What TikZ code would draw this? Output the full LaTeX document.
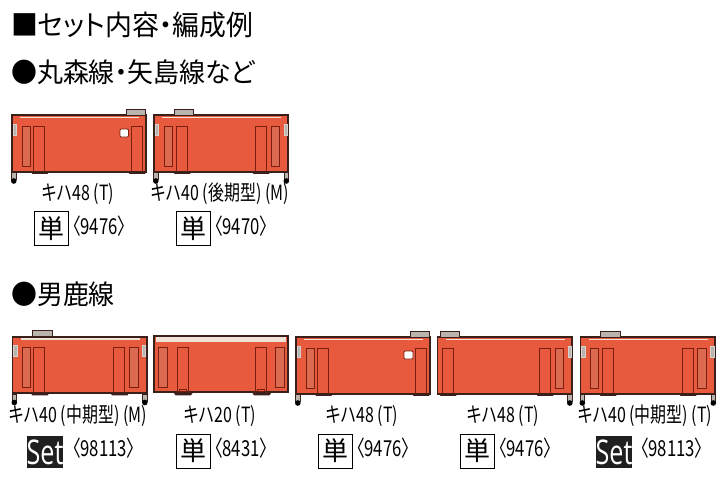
\documentclass[tikz,border=0pt]{standalone}
\usepackage{fontspec}
\setmainfont{Noto Sans CJK JP}[RawFeature=+palt]
\newfontfamily\narrowjp{Noto Sans CJK JP}[FakeStretch=0.76,RawFeature=+palt]
\newfontfamily\headjp{Noto Sans CJK JP}[FakeStretch=0.96,RawFeature=+palt]
\newfontfamily\setfont{Open Sans}[FakeStretch=0.74]
\definecolor{bodyred}{HTML}{E85A3E}
\definecolor{panelred}{HTML}{DC6A50}
\definecolor{edgedark}{HTML}{3A1F1A}
\definecolor{doorline}{HTML}{7A1E10}
\definecolor{roofgrey}{HTML}{B9B4AE}
\definecolor{stripe}{HTML}{EFE3D8}
\tikzset{
  x=1pt,y=-1pt,
  bodyshape/.style={fill=bodyred,draw=none},
  frametop/.style={line width=2pt,draw=edgedark},
  frameedge/.style={line width=1.6pt,draw=edgedark},
  stripeline/.style={line width=1.7pt,draw=stripe},
  doorbox/.style={draw=doorline,line width=.9pt},
  panelbox/.style={draw=doorline,fill=panelred,line width=.8pt},
  roofbox/.style={fill=roofgrey,draw=edgedark,line width=.5pt},
  lampbox/.style={fill=roofgrey,draw=roofgrey!60,line width=.4pt},
  couplerstem/.style={fill=roofgrey,draw=edgedark,line width=.6pt},
  couplerhead/.style={fill=black,draw=none,circle,inner sep=0pt,minimum size=5.6pt},
  headingtext/.style={anchor=west,inner sep=0pt,font=\headjp\fontsize{27}{27}\selectfont},
  titletext/.style={anchor=west,inner sep=0pt,font=\headjp\fontsize{28}{28}\selectfont},
  carlabel/.style={inner sep=0pt,font=\narrowjp\fontsize{21}{21}\selectfont},
  numlabel/.style={anchor=west,inner sep=0pt,font=\narrowjp\fontsize{22}{22}\selectfont},
  tankbox/.style={draw=black,line width=.7pt,fill=white,minimum width=34pt,minimum height=34pt,inner sep=0pt,font=\fontsize{26}{26}\selectfont},
  setbox/.style={fill=black!88,text=white,minimum width=36pt,minimum height=32pt,inner sep=0pt,font=\setfont\fontsize{34}{34}\selectfont}
}
% #1 x, #2 y: body top left; body is 136 x 58
\newcommand{\carbody}[2]{%
  \fill[bodyshape] (#1,#2) rectangle ++(136,58);
  \draw[frameedge] (#1+.8,#2) -- (#1+.8,#2+57.2) -- (#1+135.2,#2+57.2) -- (#1+135.2,#2);
  \draw[frametop] (#1,#2+.5) -- (#1+136,#2+.5);
  \draw[stripeline] (#1+9,#2+3) -- (#1+128,#2+3);
}
\newcommand{\roofunit}[2]{\filldraw[roofbox] (#1,#2-5.5) rectangle ++(19.5,6);}
\newcommand{\doorat}[2]{%
  \draw[doorbox] (#1,#2+57) -- (#1,#2+11.5) -- (#1+11,#2+11.5) -- (#1+11,#2+57);
  \fill[edgedark] (#1-3,#2+57) -- (#1-1.5,#2+59.3) -- (#1+14,#2+59.3) -- (#1+15.5,#2+57) -- cycle;
}
\newcommand{\panelat}[2]{\filldraw[panelbox] (#1,#2+11.5) rectangle ++(8.5,40);}
\newcommand{\headlamp}[2]{\filldraw[lampbox] (#1,#2+9.5) rectangle ++(3.2,11);}
\newcommand{\coupler}[2]{%
  \filldraw[couplerstem] (#1+.6,#2+58) rectangle ++(4.6,7);
  \node[couplerhead] at (#1+2.8,#2+66.5) {};
}
\begin{document}
\begin{tikzpicture}
\useasboundingbox (0,0) rectangle (727,480);
\fill[white] (0,0) rectangle (727,480);

\node[titletext] (h1) at (11,25) {■セット内容・編成例};
\node[headingtext] (h2) at (11,72) {●丸森線・矢島線など};
\node[headingtext] (h3) at (11,294) {●男鹿線};

% Car 1: KiHa 48
\carbody{11}{114.5}
\roofunit{126}{114.5}
\panelat{22.3}{114.5}
\doorat{33.7}{114.5}
\doorat{131}{114.5}
\filldraw[fill=white,draw=doorline,line width=.9pt,rounded corners=1pt] (120,129) rectangle (128.5,137);
\headlamp{13}{114.5}
\coupler{11}{114.5}

% Car 2: KiHa 40 late
\carbody{153}{114.5}
\roofunit{174}{114.5}
\panelat{164}{114.5}
\doorat{176}{114.5}
\doorat{255}{114.5}
\panelat{271}{114.5}
\headlamp{155}{114.5}
\headlamp{284}{114.5}
\coupler{153}{114.5}
\coupler{283.5}{114.5}

% Car 3: KiHa 40 mid
\carbody{11.5}{336}
\roofunit{32.5}{336}
\panelat{22.3}{336}
\doorat{33.7}{336}
\doorat{113.5}{336}
\panelat{129.5}{336}
\headlamp{13.5}{336}
\headlamp{142}{336}
\coupler{11.5}{336}
\coupler{142}{336}

% Car 4: KiHa 20
\carbody{153}{335}
\draw[line width=5pt,draw=stripe] (155.5,339.5) -- (286,339.5);
\panelat{158.5}{336}
\doorat{177}{336}
\doorat{255.5}{336}
\panelat{275.5}{336}
\draw[doorline,line width=.6pt] (179,389.5) rectangle (186,391.5);
\draw[doorline,line width=.6pt] (257.5,389.5) rectangle (264.5,391.5);

% Car 5: KiHa 48
\carbody{295}{336.5}
\roofunit{410}{336.5}
\panelat{306}{336.5}
\doorat{317.5}{336.5}
\doorat{415}{336.5}
\filldraw[fill=white,draw=doorline,line width=.9pt,rounded corners=1pt] (404,351) rectangle (413,359);
\headlamp{297}{336.5}
\coupler{295}{336.5}

% Car 6: KiHa 48
\carbody{436.5}{336.5}
\roofunit{440}{336.5}
\doorat{442}{336.5}
\doorat{539}{336.5}
\panelat{555}{336.5}
\headlamp{568}{336.5}
\coupler{567}{336.5}

% Car 7: KiHa 40 mid
\carbody{579.5}{336.5}
\roofunit{600.5}{336.5}
\panelat{590}{336.5}
\doorat{602}{336.5}
\doorat{682}{336.5}
\panelat{697.5}{336.5}
\headlamp{581.5}{336.5}
\headlamp{710.5}{336.5}
\coupler{579.5}{336.5}
\coupler{710.5}{336.5}

% Labels row 1
\node[carlabel] (l1) at (78,194) {キハ48 (T)};
\node[carlabel] (l2) at (220,194) {キハ40 (後期型) (M)};
\node[tankbox] (b1) at (51,228.5) {単};
\node[numlabel] (n1) at (72,226) {〈9476〉};
\node[tankbox] (b2) at (193,228.5) {単};
\node[numlabel] (n2) at (214,226) {〈9470〉};

% Labels row 2
\node[carlabel] (l3) at (78,416) {キハ40 (中期型) (M)};
\node[carlabel] (l4) at (220,416) {キハ20 (T)};
\node[carlabel] (l5) at (362,416) {キハ48 (T)};
\node[carlabel] (l6) at (503,416) {キハ48 (T)};
\node[carlabel] (l7) at (645,416) {キハ40 (中期型) (T)};
\node[setbox] (b3) at (45,452) {Set};
\node[numlabel] (n3) at (72,448) {〈98113〉};
\node[tankbox] (b4) at (193,451) {単};
\node[numlabel] (n4) at (214,448) {〈8431〉};
\node[tankbox] (b5) at (335,451) {単};
\node[numlabel] (n5) at (356,448) {〈9476〉};
\node[tankbox] (b6) at (477,451) {単};
\node[numlabel] (n6) at (498,448) {〈9476〉};
\node[setbox] (b7) at (614,452) {Set};
\node[numlabel] (n7) at (640,448) {〈98113〉};
\end{tikzpicture}
\end{document}
